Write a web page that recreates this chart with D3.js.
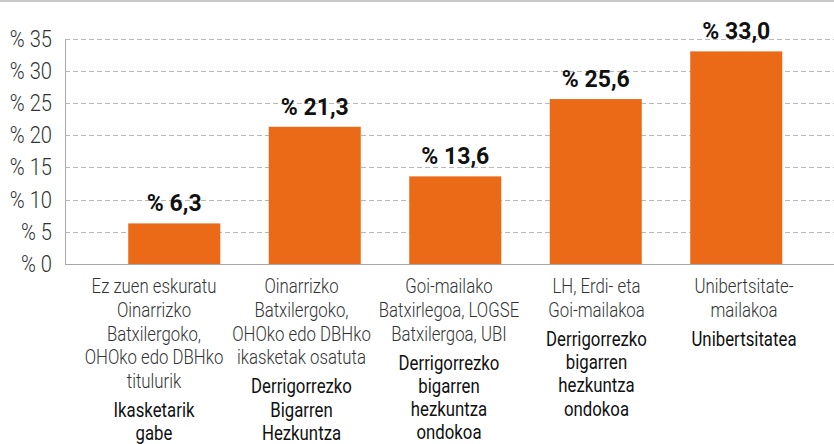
<!DOCTYPE html>
<html>
<head>
<meta charset="utf-8">
<script src="https://cdn.jsdelivr.net/npm/d3@7"></script>
<style>
  html, body { margin: 0; padding: 0; background: #fff; }
  svg { display: block; }
</style>
</head>
<body>
<svg id="chart" width="834" height="444"></svg>
<script>
// ---- data ----
const categoryLines = [
  ["Ez zuen eskuratu", "Oinarrizko", "Batxilergoko,", "OHOko edo DBHko", "titulurik"],
  ["Oinarrizko", "Batxilergoko,", "OHOko edo DBHko", "ikasketak osatuta"],
  ["Goi-mailako", "Batxirlegoa, LOGSE", "Batxilergoa, UBI"],
  ["LH, Erdi- eta", "Goi-mailakoa"],
  ["Unibertsitate-", "mailakoa"]
];
const groupLines = [
  ["Ikasketarik", "gabe"],
  ["Derrigorrezko", "Bigarren", "Hezkuntza"],
  ["Derrigorrezko", "bigarren", "hezkuntza", "ondokoa"],
  ["Derrigorrezko", "bigarren", "hezkuntza", "ondokoa"],
  ["Unibertsitatea"]
];
const values = [6.3, 21.3, 13.6, 25.6, 33.0];
const yTicks = [0, 5, 10, 15, 20, 25, 30, 35];

// ---- layout ----
const W = 834, H = 444;
const axisX = 65, plotRight = 834;
const yTop = 38.5, yBottom = 264;
const orange = "#ea6a17";
const condensed = 0.84;

const svg = d3.select("#chart");
const idx = values.map((d, i) => i);

const x = d3.scaleBand().domain(idx).range([104, 806.5]).paddingInner(0.345).paddingOuter(0.1725);
const xLab = d3.scalePoint().domain(idx).range([154, 744]);
const y = d3.scaleLinear().domain([0, 35]).range([yBottom, yTop]);

// top band
svg.append("rect").attr("x", 0).attr("y", 0).attr("width", W).attr("height", 2).attr("fill", "#c8c8c8");

// gridlines
svg.append("g").selectAll("line").data(yTicks.filter(t => t > 0)).join("line")
  .attr("x1", axisX).attr("x2", plotRight)
  .attr("y1", d => Math.round(y(d)) + 0.5).attr("y2", d => Math.round(y(d)) + 0.5)
  .attr("stroke", "#b8b8b8").attr("stroke-width", 1).attr("stroke-dasharray", "5,3");

// y tick labels
svg.append("g").selectAll("text").data(yTicks).join("text")
  .attr("transform", d => `translate(52,${y(d) + 8}) scale(${condensed},1)`)
  .attr("text-anchor", "end")
  .style("font-family", "Roboto, sans-serif").style("font-weight", 300).style("font-size", "24px")
  .attr("fill", "#333")
  .text(d => "% " + d);

// bars
svg.append("g").selectAll("rect").data(values).join("rect")
  .attr("x", (d, i) => x(i)).attr("width", x.bandwidth())
  .attr("y", d => y(d)).attr("height", d => y(0) - y(d))
  .attr("fill", orange);

// axes lines
svg.append("line").attr("x1", axisX + 0.5).attr("x2", axisX + 0.5).attr("y1", Math.round(yTop)).attr("y2", yBottom + 1)
  .attr("stroke", "#a8a8a8").attr("stroke-width", 1);
svg.append("line").attr("x1", axisX).attr("x2", plotRight).attr("y1", yBottom + 0.5).attr("y2", yBottom + 0.5)
  .attr("stroke", "#a8a8a8").attr("stroke-width", 1);

// value labels
const fmt = d3.format(".1f");
svg.append("g").selectAll("text").data(values).join("text")
  .attr("x", (d, i) => x(i) + x.bandwidth() / 2)
  .attr("y", d => y(d) - 12)
  .attr("text-anchor", "middle")
  .style("font-family", "Roboto, sans-serif").style("font-weight", 700).style("font-size", "23px")
  .attr("fill", "#111")
  .text(d => "% " + fmt(d).replace(".", ","));

// category labels
const lineH = 23.8;
const firstBase = 293;
const groupGap = 29;
idx.forEach(i => {
  const g = svg.append("g").attr("transform", `translate(${xLab(i)},0) scale(${condensed},1)`);
  const lines = categoryLines[i];
  g.selectAll("text.light").data(lines).join("text").attr("class", "light")
    .attr("x", 0).attr("y", (d, j) => firstBase + j * lineH)
    .attr("text-anchor", "middle")
    .style("font-family", "Roboto, sans-serif").style("font-weight", 300).style("font-size", "20px")
    .attr("fill", "#333").text(d => d);
  const start = firstBase + (lines.length - 1) * lineH + groupGap;
  g.selectAll("text.bold").data(groupLines[i]).join("text").attr("class", "bold")
    .attr("x", 0).attr("y", (d, j) => start + j * 23.3)
    .attr("text-anchor", "middle")
    .style("font-family", "Roboto, sans-serif").style("font-weight", 400).style("font-size", "20px")
    .attr("fill", "#111").text(d => d);
});
</script>
</body>
</html>
